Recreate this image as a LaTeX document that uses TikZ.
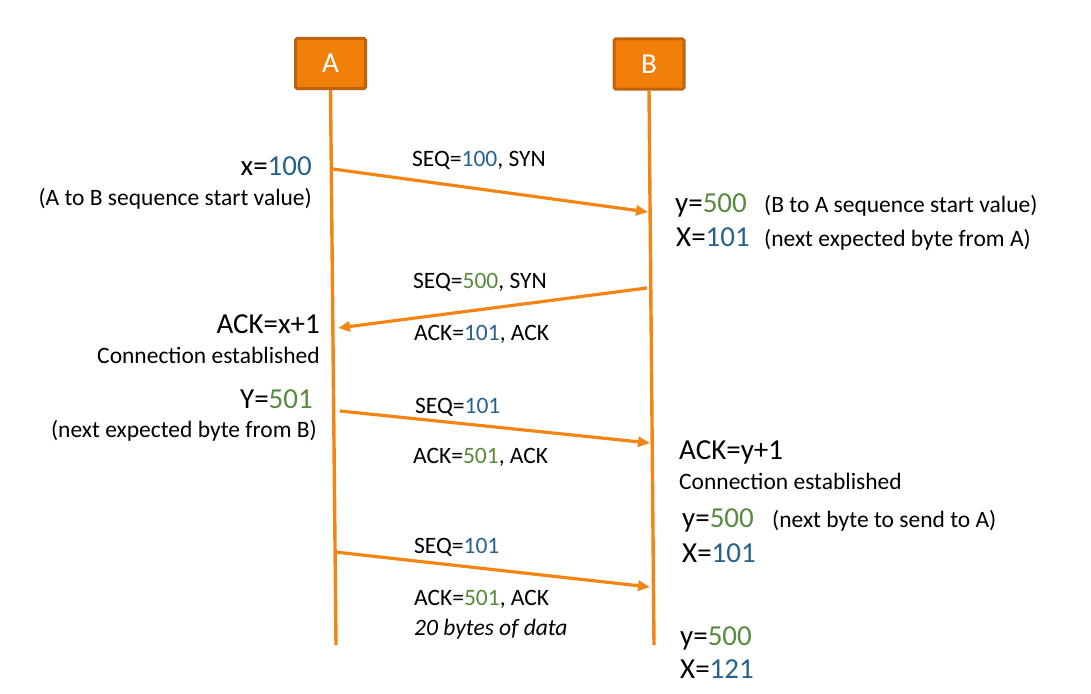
\documentclass[tikz,border=0pt]{standalone}
\usepackage{fontspec}
\setmainfont{Carlito}
\usepackage{tikz}
\usetikzlibrary{arrows.meta}

\definecolor{boxorange}{RGB}{240,128,10}
\definecolor{boxedge}{RGB}{190,98,14}
\definecolor{lineorange}{RGB}{242,133,20}
\definecolor{numblue}{RGB}{38,98,140}
\definecolor{numgreen}{RGB}{88,138,62}
\newcommand{\blu}[1]{\textcolor{numblue}{#1}}
\newcommand{\grn}[1]{\textcolor{numgreen}{#1}}

\begin{document}
\begin{tikzpicture}[x=1pt,y=-1pt,
    host/.style={draw=boxedge,line width=3pt,fill=boxorange,rounded corners=1.5pt,
        minimum width=70pt,minimum height=50pt,text=white,font=\fontsize{29}{34}\selectfont},
    life/.style={lineorange,line width=3.4pt},
    msg/.style={lineorange,line width=3.2pt,-{Triangle[length=12pt,width=10pt]}},
    bigtxt/.style={inner sep=0pt,font=\fontsize{29}{34}\selectfont},
    smalltxt/.style={inner sep=0pt,font=\fontsize{23.5}{28}\selectfont}]
    \useasboundingbox (0,0) rectangle (1091,693);

    % hosts and lifelines
    \node [host] (A) at (330.5,63.5) {A};
    \node [host] (B) at (649,64) {B};
    \coordinate (aend) at (336,645);
    \coordinate (bend) at (654,645);
    \draw [life] (A.south) -- (aend);
    \draw [life] (B.south) -- (bend);

    % ends of the messages
    \coordinate (m1s) at (333,169);
    \coordinate (m1e) at (648,212);
    \coordinate (m2s) at (647,288);
    \coordinate (m2e) at (338,328);
    \coordinate (m3s) at (340,411);
    \coordinate (m3e) at (650,443);
    \coordinate (m4s) at (335,552);
    \coordinate (m4e) at (650,587);
    \draw [msg] (m1s) -- (m1e);
    \draw [msg] (m2s) -- (m2e);
    \draw [msg] (m3s) -- (m3e);
    \draw [msg] (m4s) -- (m4e);

    % A side
    \node [bigtxt,anchor=base east] (xa) at (312,175) {x=\blu{100}};
    \node [smalltxt,anchor=base east] (xanote) at (312,205) {(A to B sequence start value)};
    \node [bigtxt,anchor=base east] (acka) at (320,333) {ACK=x+1};
    \node [smalltxt,anchor=base east] (conna) at (320,363) {Connection established};
    \node [bigtxt,anchor=base east] (ya) at (313,408) {Y=\grn{501}};
    \node [smalltxt,anchor=base east] (yanote) at (317,437) {(next expected byte from B)};

    % message labels
    \node [smalltxt,anchor=base west] (l1) at (412,166) {SEQ=\blu{100}, SYN};
    \node [smalltxt,anchor=base west] (l2) at (413,288) {SEQ=\grn{500}, SYN};
    \node [smalltxt,anchor=base west] (l3) at (414,340) {ACK=\blu{101}, ACK};
    \node [smalltxt,anchor=base west] (l4) at (415,413) {SEQ=\blu{101}};
    \node [smalltxt,anchor=base west] (l5) at (413,463) {ACK=\grn{501}, ACK};
    \node [smalltxt,anchor=base west] (l6) at (414,553) {SEQ=\blu{101}};
    \node [smalltxt,anchor=base west] (l7) at (414,605) {ACK=\grn{501}, ACK};
    \node [smalltxt,anchor=base west] (l8) at (414,635) {\itshape 20 bytes of data};

    % B side
    \node [bigtxt,anchor=base west] (yb) at (675,212) {y=\grn{500}};
    \node [smalltxt,anchor=base west] (ybnote) at (764,212) {(B to A sequence start value)};
    \node [bigtxt,anchor=base west] (xb) at (676,246) {X=\blu{101}};
    \node [smalltxt,anchor=base west] (xbnote) at (764,246) {(next expected byte from A)};
    \node [bigtxt,anchor=base west] (ackb) at (679,459) {ACK=y+1};
    \node [smalltxt,anchor=base west] (connb) at (679,489) {Connection established};
    \node [bigtxt,anchor=base west] (yb2) at (682,527) {y=\grn{500}};
    \node [smalltxt,anchor=base west] (yb2note) at (772,527) {(next byte to send to A)};
    \node [bigtxt,anchor=base west] (xb2) at (682,562) {X=\blu{101}};
    \node [bigtxt,anchor=base west] (yb3) at (680,645) {y=\grn{500}};
    \node [bigtxt,anchor=base west] (xb3) at (680,678) {X=\blu{121}};
\end{tikzpicture}
\end{document}
